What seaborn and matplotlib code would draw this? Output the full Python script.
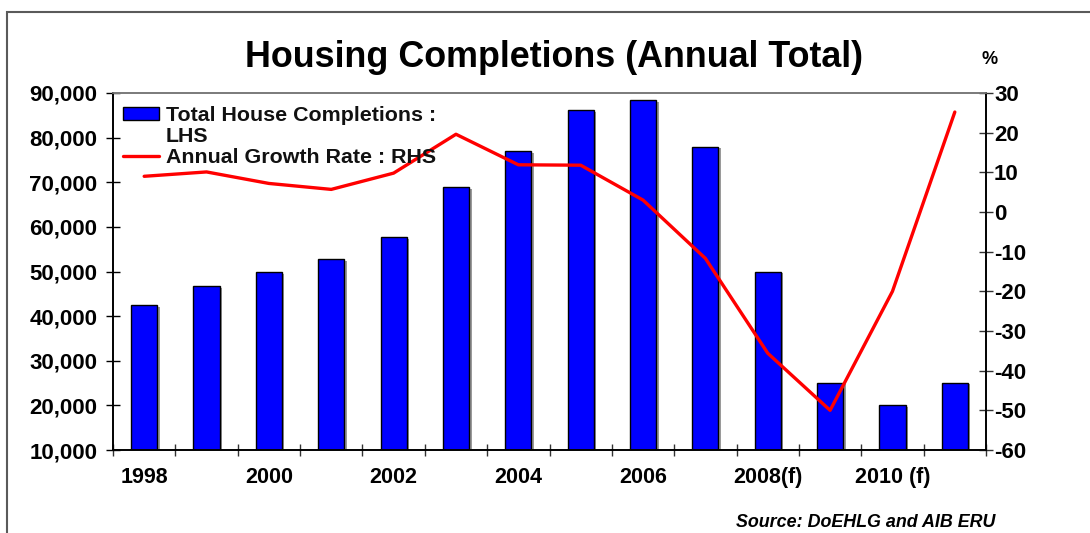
import matplotlib
matplotlib.use("Agg")
import matplotlib.pyplot as plt
import matplotlib.patheffects as pe
from matplotlib.patches import Patch, Rectangle
from matplotlib.lines import Line2D
from matplotlib.ticker import FuncFormatter, FixedLocator
import numpy as np
import pandas as pd
import seaborn as sns

# Annual housing completions (units) and year-on-year growth (%)
years = ["1998", "1999", "2000", "2001", "2002", "2003", "2004",
         "2005", "2006", "2007", "2008", "2009", "2010", "2011"]
completions = [42400, 46700, 49800, 52700, 57700, 68900, 76900,
               86100, 88400, 78000, 50000, 25000, 20000, 25000]
growth = [9.0, 10.1, 7.2, 5.7, 9.8, 19.6, 11.9,
          11.8, 3.0, -11.7, -35.6, -50.0, -20.0, 25.2]
year_labels = ["1998", "", "2000", "", "2002", "", "2004",
               "", "2006", "", "2008(f)", "", "2010 (f)", ""]

left_ticks = list(range(10000, 90001, 10000))
right_ticks = list(range(-60, 31, 10))

BLUE = "#0000FF"
RED = "#FF0000"

sns.set_theme(style="white")
plt.rcParams["font.family"] = ["Liberation Sans", "DejaVu Sans"]
plt.rcParams["font.weight"] = "bold"
plt.rcParams["axes.unicode_minus"] = False

W, H = 1090, 533
fig = plt.figure(figsize=(W / 100, H / 100), dpi=100)
fig.patch.set_facecolor("white")

x0, x1, y0, y1 = 113, 986, 93, 450
ax = fig.add_axes([x0 / W, 1 - y1 / H, (x1 - x0) / W, (y1 - y0) / H])

df = pd.DataFrame({"year": years, "completions": completions, "growth": growth})

sns.barplot(data=df, x="year", y="completions", ax=ax, color=BLUE,
            saturation=1, width=0.42, edgecolor="black", linewidth=1.0)
for p in ax.patches:
    p.set_path_effects([
        pe.SimplePatchShadow(offset=(1.8, -1), shadow_rgbFace="#9a9a9a", alpha=1.0),
        pe.Normal(),
    ])

ax2 = ax.twinx()
sns.lineplot(x=np.arange(len(years)), y=df["growth"], ax=ax2,
             color=RED, linewidth=2.4)

n = len(years)
ax.set_xlim(-0.5, n - 0.5)
ax.set_ylim(left_ticks[0], left_ticks[-1])
ax2.set_ylim(right_ticks[0], right_ticks[-1])

ax.set_xlabel("")
ax.set_ylabel("")
ax2.set_xlabel("")
ax2.set_ylabel("")

# left axis
ax.set_yticks(left_ticks)
ax.yaxis.set_major_formatter(FuncFormatter(lambda v, _: f"{v:,.0f}"))
ax.tick_params(axis="y", direction="inout", length=9.5, width=1.0,
               color="black", labelsize=16, pad=6.5, labelcolor="black", left=True)

# category axis: labels on every other year, ticks between categories
ax.set_xticks(range(n))
ax.set_xticklabels(year_labels)
ax.tick_params(axis="x", which="major", length=0, labelsize=15.5, pad=12,
               labelcolor="black")
ax.xaxis.set_minor_locator(FixedLocator(np.arange(-0.5, n, 1.0)))
ax.tick_params(axis="x", which="minor", direction="inout", length=8,
               width=1.0, color="#333333", bottom=True)

# right axis
ax2.set_yticks(right_ticks)
ax2.tick_params(axis="y", direction="inout", length=9.5, width=1.0,
                color="#333333", labelsize=16, pad=1.0, labelcolor="black", right=True)

for a in (ax, ax2):
    for s in ("left", "bottom", "right"):
        a.spines[s].set_color("black")
        a.spines[s].set_linewidth(1.2)
    a.spines["top"].set_color("#7a7a7a")
    a.spines["top"].set_linewidth(1.2)
ax.patch.set_alpha(0)

# legend (middle row carries the wrapped part of the first label)
handles = [
    Patch(facecolor=BLUE, edgecolor="black", linewidth=1.0),
    Line2D([], [], color="none"),
    Line2D([], [], color=RED, linewidth=2.4),
]
labels = ["Total House Completions :", "LHS", "Annual Growth Rate : RHS"]
leg = ax2.legend(handles, labels, loc="upper left",
                 bbox_to_anchor=((123 - x0) / (x1 - x0), 1 - (106 - y0) / (y1 - y0)),
                 frameon=False, fontsize=15.4, borderpad=0, borderaxespad=0,
                 handlelength=1.7, handleheight=0.5, handletextpad=0.3,
                 labelspacing=0.1)
for t in leg.get_texts():
    t.set_color("#111111")

# title and annotations
fig.text(554 / W, 1 - 67 / H, "Housing Completions (Annual Total)",
         ha="center", va="baseline", fontsize=25.8, fontweight="bold", color="black")
fig.text(990 / W, 1 - 64 / H, "%", ha="center", va="baseline",
         fontsize=13, fontweight="bold", color="black")
fig.text(995 / W, 1 - 527 / H, "Source: DoEHLG and AIB ERU", ha="right",
         va="baseline", fontsize=12.9, fontweight="bold", fontstyle="italic",
         color="black")

# outer frame (top and left edges visible)
frame = Rectangle((7 / W, -0.2), 1.5, 0.2 + (1 - 12 / H), fill=False,
                  edgecolor="#5a5a5a", linewidth=1.5,
                  transform=fig.transFigure, clip_on=False)
fig.add_artist(frame)

fig.savefig("out.png", dpi=100)
